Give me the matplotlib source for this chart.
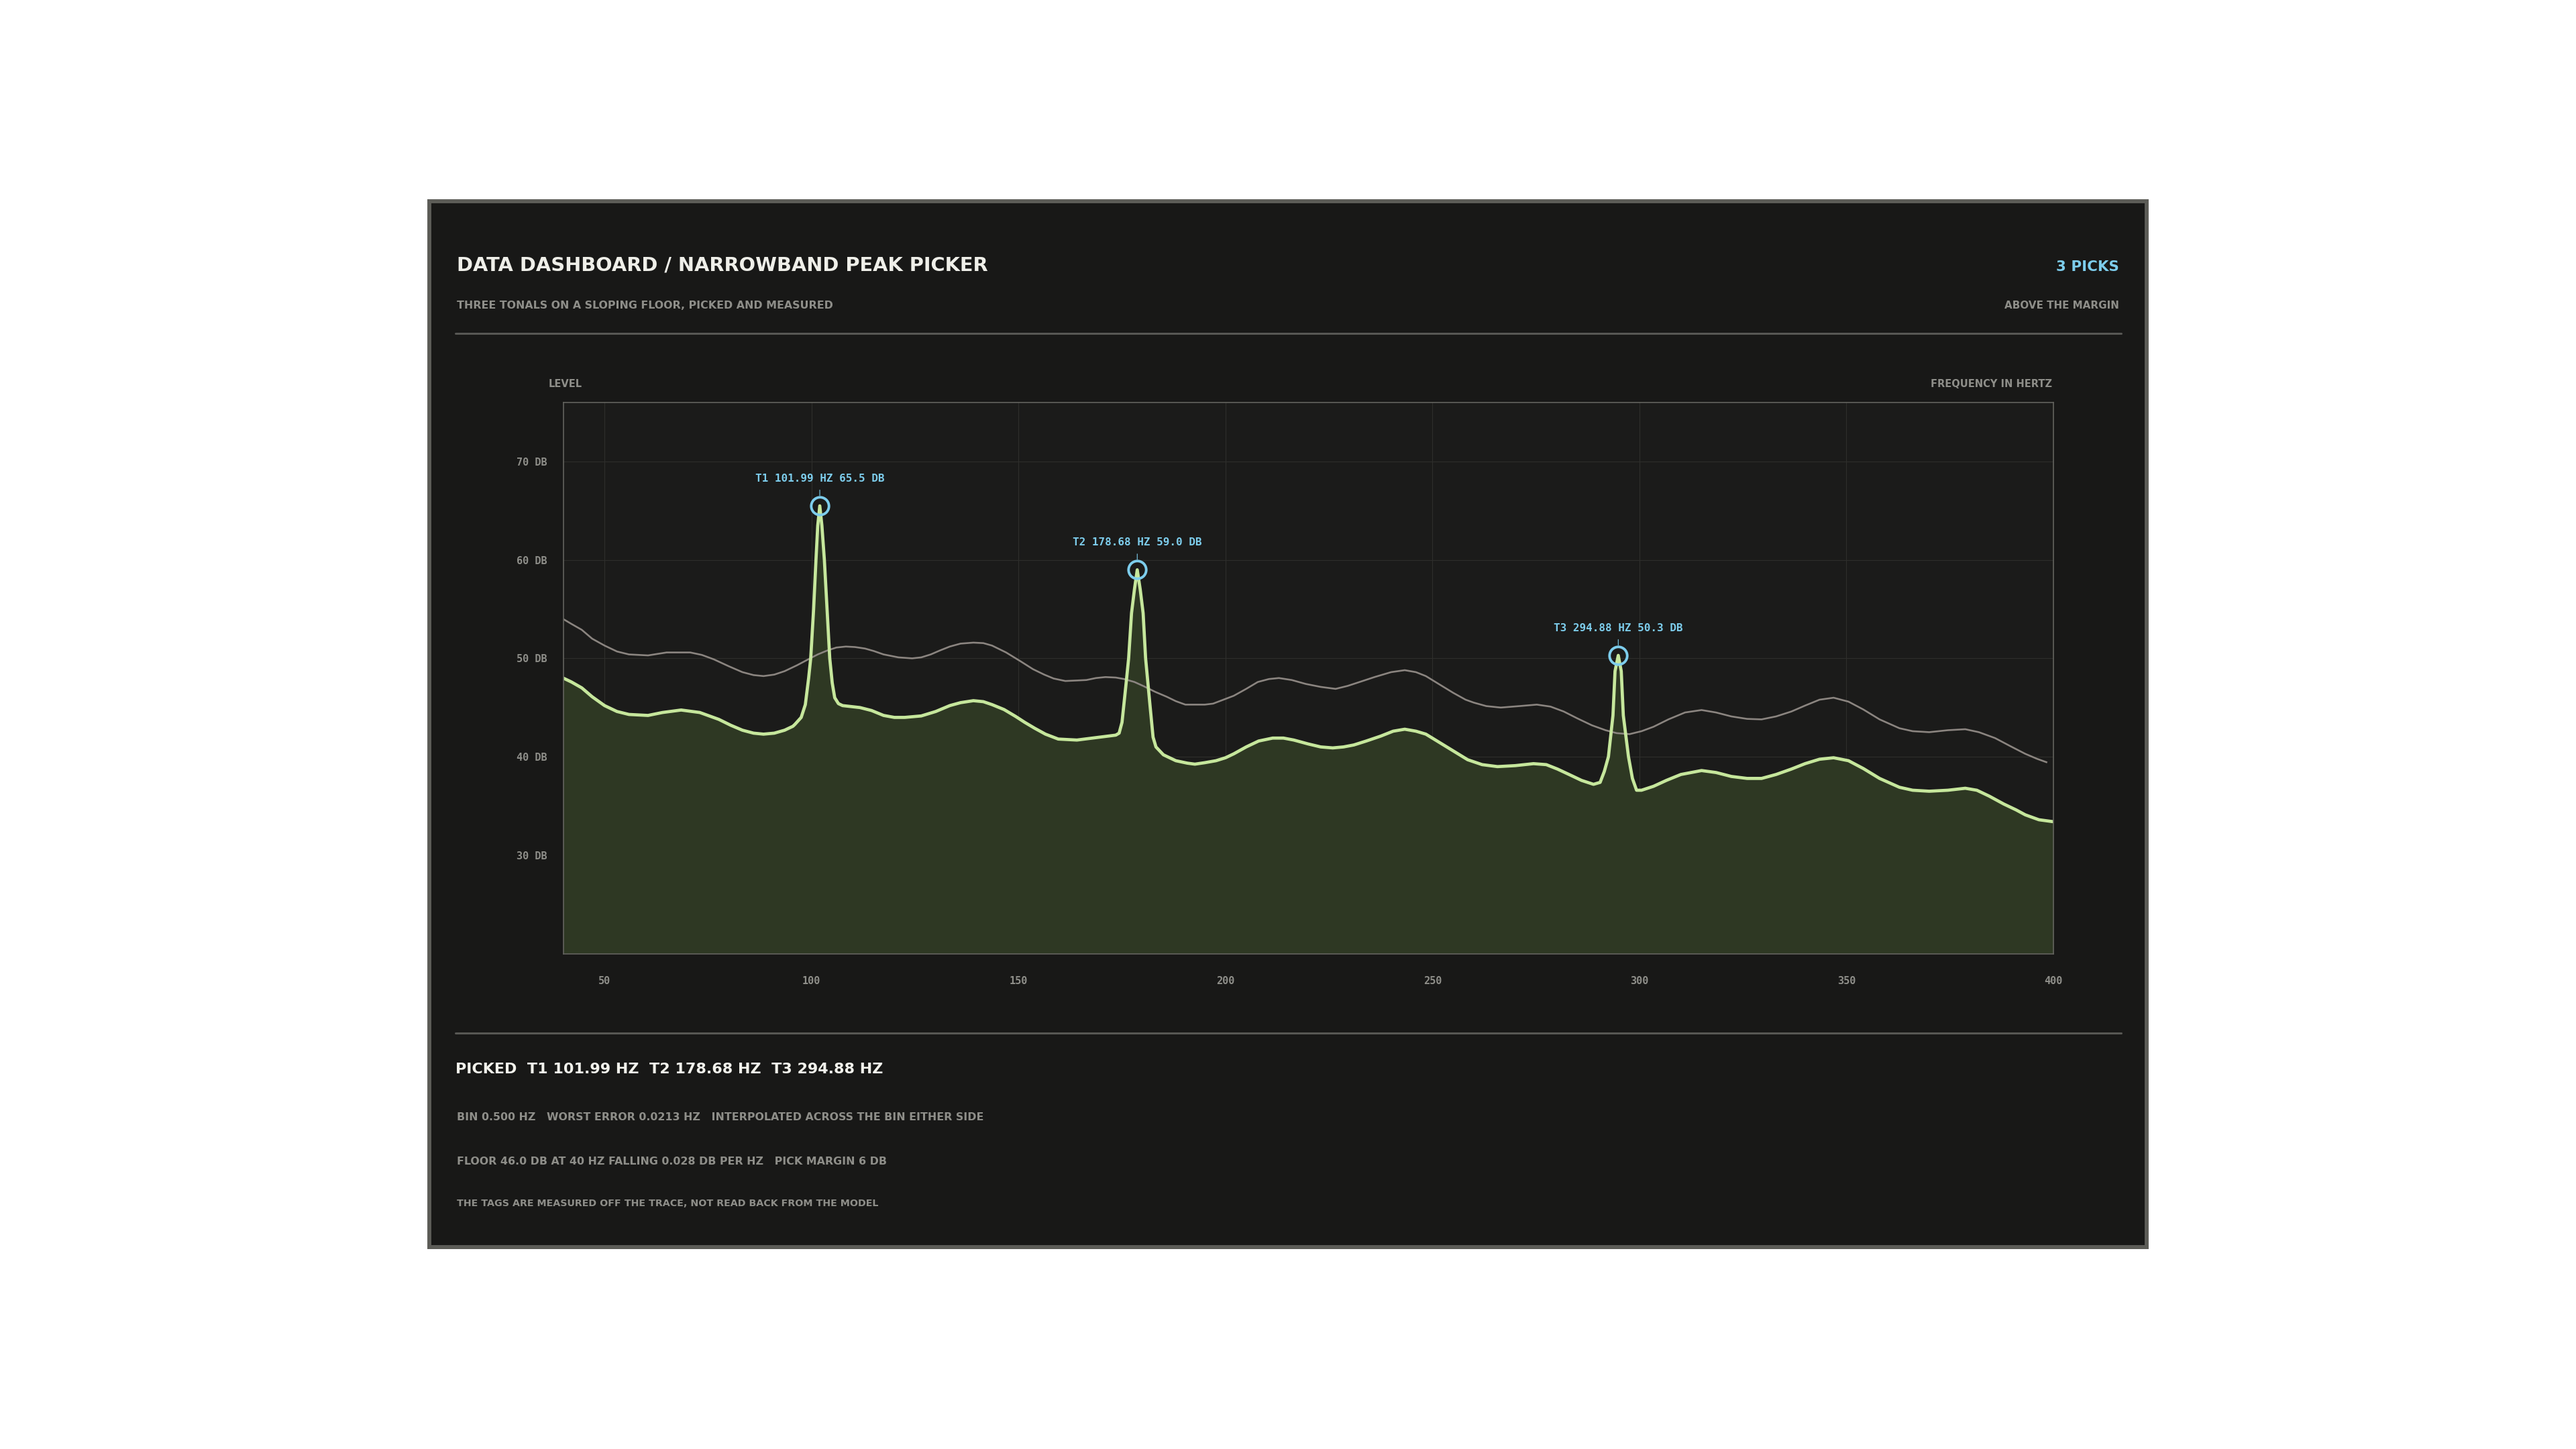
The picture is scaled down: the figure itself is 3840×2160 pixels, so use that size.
import matplotlib
matplotlib.use('Agg')
import matplotlib.pyplot as plt
from matplotlib.patches import Rectangle
from matplotlib.lines import Line2D

# spectrum trace (Hz, dB)
freq = [40.0, 42.0, 44.5, 47.0, 50.0, 53.0, 55.9, 60.5, 64.0, 68.5, 73.0, 77.6, 80.5, 83.3,
        86.0, 88.4, 91.0, 93.5, 95.5, 96.0, 97.5, 98.5, 99.3, 99.8, 100.5, 101.07, 101.5, 101.99,
        102.5, 103.1, 103.75, 104.4, 105.0, 105.6, 106.5, 107.5, 111.7, 114.5, 117.4, 120.0,
        122.5, 126.5, 130.0, 133.4, 136.0, 139.1, 141.5, 143.6, 146.5, 149.3, 151.5, 153.9,
        156.5, 159.6, 164.1, 169.8, 173.5, 174.3, 175.0, 175.5, 176.0, 176.6, 177.3, 178.0,
        178.68, 179.4, 180.1, 180.7, 181.7, 182.5, 183.2, 185.0, 188.0, 190.8, 192.6, 195.0,
        197.7, 200.0, 202.0, 205.0, 208.0, 211.4, 214.0, 216.5, 220.0, 223.0, 225.9, 228.5,
        231.0, 234.0, 237.5, 240.5, 243.3, 246.0, 248.4, 251.5, 255.0, 258.5, 262.0, 265.7,
        270.0, 274.4, 277.5, 280.2, 283.0, 286.0, 288.9, 290.5, 291.5, 292.5, 293.6, 294.1,
        294.88, 295.6, 296.1, 297.35, 298.3, 299.3, 300.5, 303.4, 306.5, 310.0, 315.0, 318.5,
        322.2, 326.0, 329.5, 333.0, 336.7, 340.0, 343.5, 346.9, 350.5, 354.1, 358.0, 362.8,
        366.0, 370.0, 374.5, 378.7, 381.5, 384.5, 388.0, 391.0, 393.2, 396.5, 400.0]
level = [48.0, 47.6, 47.0, 46.1, 45.2, 44.6, 44.3, 44.2, 44.5, 44.75, 44.5, 43.8, 43.2, 42.7,
         42.4, 42.3, 42.4, 42.7, 43.1, 43.3, 44.0, 45.3, 48.0, 50.0, 55.0, 60.0, 63.5, 65.5,
         63.5, 60.0, 55.0, 50.0, 47.5, 46.0, 45.4, 45.2, 45.0, 44.7, 44.2, 44.0,
         44.0, 44.15, 44.6, 45.2, 45.5, 45.7, 45.6, 45.3, 44.8, 44.1, 43.5, 42.9,
         42.3, 41.8, 41.7, 42.0, 42.2, 42.4, 43.5, 45.5, 47.5, 50.0, 54.6, 57.0,
         59.0, 57.0, 54.6, 50.0, 45.5, 42.0, 41.0, 40.2, 39.6, 39.35, 39.25, 39.4,
         39.6, 39.9, 40.3, 41.0, 41.6, 41.9, 41.9, 41.7, 41.3, 41.0, 40.9, 41.0,
         41.2, 41.6, 42.1, 42.6, 42.8, 42.6, 42.3, 41.5, 40.6, 39.7, 39.2, 39.0,
         39.1, 39.3, 39.2, 38.75, 38.2, 37.6, 37.2, 37.4, 38.5, 40.0, 44.2, 48.7,
         50.3, 48.7, 44.2, 40.0, 37.8, 36.6, 36.6, 37.0, 37.6, 38.2, 38.6, 38.4,
         38.0, 37.8, 37.8, 38.2, 38.75, 39.3, 39.75, 39.9, 39.6, 38.8, 37.8, 36.9,
         36.6, 36.5, 36.6, 36.8, 36.6, 36.0, 35.2, 34.6, 34.1, 33.6, 33.4]

# pick threshold (floor + margin)
thr_freq = [40.0, 42.0, 44.5, 47.0, 50.0, 53.0, 55.9, 60.5, 65.0, 70.7, 73.5, 76.4, 80.0, 83.3,
            86.0, 88.4, 91.0, 93.5, 96.5, 99.2, 101.5, 103.8, 106.0, 108.3, 110.5, 112.9, 115.0,
            117.4, 121.0, 124.3, 126.5, 128.8, 131.0, 133.4, 136.0, 139.1, 141.5, 143.6, 147.0,
            150.5, 153.5, 156.2, 158.5, 161.3, 164.0, 166.4, 168.7, 171.0, 173.5, 175.5, 178.0,
            180.1, 183.0, 185.8, 188.0, 190.3, 192.6, 195.0, 197.0, 199.5, 202.0, 205.0, 207.8,
            210.5, 212.9, 216.0, 219.4, 223.0, 226.6, 229.5, 232.4, 236.0, 240.0, 243.3, 246.0,
            248.4, 251.5, 255.0, 258.0, 260.0, 263.0, 266.5, 271.0, 275.2, 278.5, 281.7, 285.0,
            288.5, 291.8, 294.5, 297.6, 300.5, 303.4, 307.0, 311.0, 315.0, 318.5, 322.2, 326.0,
            329.5, 333.0, 336.7, 340.0, 343.5, 346.9, 350.5, 354.1, 358.0, 362.8, 366.0, 370.0,
            374.5, 378.7, 382.0, 385.9, 389.5, 393.2, 396.0, 398.3]
thr_level = [54.0, 53.5, 52.9, 52.0, 51.3, 50.7, 50.4, 50.3, 50.6, 50.6, 50.35, 49.9, 49.2, 48.6,
             48.3, 48.2, 48.35, 48.7, 49.3, 49.9, 50.4, 50.8, 51.1, 51.2, 51.15, 51.0, 50.75,
             50.4, 50.1, 50.0, 50.1, 50.4, 50.8, 51.2, 51.5, 51.6, 51.55, 51.3, 50.6,
             49.7, 48.9, 48.35, 47.95, 47.7, 47.75, 47.8, 48.0, 48.1, 48.05, 47.9, 47.6,
             47.2, 46.6, 46.1, 45.65, 45.3, 45.3, 45.3, 45.4, 45.8, 46.2, 46.9, 47.6,
             47.9, 48.0, 47.8, 47.4, 47.1, 46.9, 47.2, 47.6, 48.1, 48.6, 48.8, 48.6,
             48.2, 47.4, 46.5, 45.8, 45.5, 45.15, 45.0, 45.15, 45.3, 45.1, 44.6, 43.9,
             43.2, 42.7, 42.4, 42.3, 42.6, 43.05, 43.8, 44.5, 44.75, 44.5, 44.1, 43.85,
             43.8, 44.1, 44.6, 45.2, 45.8, 46.0, 45.6, 44.8, 43.8, 42.9, 42.6, 42.5,
             42.7, 42.8, 42.5, 41.9, 41.1, 40.3, 39.8, 39.45]

# picked tonals
pick_names = ['T1', 'T2', 'T3']
pick_freq = [101.99, 178.68, 294.88]
pick_level = [65.5, 59.0, 50.3]

x_ticks = [50, 100, 150, 200, 250, 300, 350, 400]
y_ticks = [30, 40, 50, 60, 70]

footer_lines = [
    'BIN 0.500 HZ   WORST ERROR 0.0213 HZ   INTERPOLATED ACROSS THE BIN EITHER SIDE',
    'FLOOR 46.0 DB AT 40 HZ FALLING 0.028 DB PER HZ   PICK MARGIN 6 DB',
]
footer_note = 'THE TAGS ARE MEASURED OFF THE TRACE, NOT READ BACK FROM THE MODEL'

W, H = 3840, 2160
SANS = ['DejaVu Sans']
MONO = ['DejaVu Sans Mono']
BLUE = '#7dcdec'
GREEN = '#c6e79c'
FILL = '#2e3823'
GREYLINE = '#8b8580'
TXT_GREY = '#8e8e89'


def fx(x):
    return x / W


def fy(y):
    return 1 - y / H


fig = plt.figure(figsize=(W / 100, H / 100), dpi=100, facecolor='white')

# dark card behind everything
fig.patches.append(Rectangle((fx(640), fy(1859)), (3200 - 640) / W, (1859 - 300) / H,
                             transform=fig.transFigure, facecolor='#181817',
                             edgecolor='#5c5c57', linewidth=4.3, zorder=-5))

# header
fig.text(fx(681), fy(404), 'DATA DASHBOARD / NARROWBAND PEAK PICKER', family=SANS,
         fontsize=20.8, fontweight='bold', color='#efefe9', va='baseline')
fig.text(fx(681), fy(460), 'THREE TONALS ON A SLOPING FLOOR, PICKED AND MEASURED', family=SANS,
         fontsize=11.4, fontweight='bold', color=TXT_GREY, va='baseline')
fig.text(fx(3159), fy(404), f'{len(pick_freq)} PICKS', family=SANS, fontsize=15.4,
         fontweight='bold', color=BLUE, va='baseline', ha='right')
fig.text(fx(3159), fy(460), 'ABOVE THE MARGIN', family=SANS, fontsize=10.9,
         fontweight='bold', color=TXT_GREY, va='baseline', ha='right')
for yy in (497, 1540):
    fig.add_artist(Line2D([fx(679), fx(3162)], [fy(yy), fy(yy)], color='#575754',
                          linewidth=2.2, solid_capstyle='round'))

fig.text(fx(818), fy(577), 'LEVEL', family=SANS, fontsize=10.5, fontweight='bold',
         color=TXT_GREY, va='baseline')
fig.text(fx(3059), fy(577), 'FREQUENCY IN HERTZ', family=SANS, fontsize=10.5,
         fontweight='bold', color=TXT_GREY, va='baseline', ha='right')

# chart
ax = fig.add_axes([fx(839.5), fy(1421.5), (3061 - 839.5) / W, (1421.5 - 600) / H])
ax.set_facecolor('#1b1b1a')
ax.set_xlim(40, 400)
ax.set_ylim(20, 76)
ax.set_axisbelow(True)
ax.grid(True, color='#2e2e2c', linewidth=0.8)
for s in ax.spines.values():
    s.set_color('#63635e')
    s.set_linewidth(1.2)
    s.set_zorder(5)

y0 = ax.get_ylim()[0]
ax.fill_between(freq, level, y0, color=FILL, linewidth=0, zorder=1)
ax.plot(thr_freq, thr_level, color=GREYLINE, linewidth=1.9, zorder=2)
ax.plot(freq, level, color=GREEN, linewidth=3.4, zorder=3, solid_joinstyle='round')

for name, f, lv in zip(pick_names, pick_freq, pick_level):
    ax.plot(f, lv, 'o', markersize=19, markerfacecolor='none', markeredgecolor=BLUE,
            markeredgewidth=2.8, zorder=4)
    ax.annotate('', xy=(f, lv), xytext=(0, 17), textcoords='offset points',
                arrowprops=dict(arrowstyle='-', color=BLUE, linewidth=0.8,
                                shrinkA=0, shrinkB=11), zorder=4)
    ax.annotate(f'{name} {f:.2f} HZ {lv:.1f} DB', xy=(f, lv), xytext=(0, 26),
                textcoords='offset points', ha='center', va='baseline', family=MONO,
                fontsize=11.5, fontweight='bold', color=BLUE, zorder=4)

ax.set_xticks(x_ticks)
ax.set_xticklabels([str(v) for v in x_ticks])
ax.set_yticks(y_ticks)
ax.set_yticklabels([f'{v} DB' for v in y_ticks])
ax.tick_params(axis='both', length=0, colors=TXT_GREY, labelsize=11)
ax.tick_params(axis='x', pad=24)
ax.tick_params(axis='y', pad=17)
for lab in ax.get_xticklabels() + ax.get_yticklabels():
    lab.set_family(MONO)
    lab.set_fontweight('bold')

# footer
picked = 'PICKED  ' + '  '.join(f'{n} {f:.2f} HZ' for n, f in zip(pick_names, pick_freq))
fig.text(fx(679), fy(1600), picked, family=SANS, fontsize=16, fontweight='bold',
         color='#f2f2ec', va='baseline')
for yy, line in zip((1670, 1736), footer_lines):
    fig.text(fx(681), fy(yy), line, family=SANS, fontsize=11.4, fontweight='bold',
             color=TXT_GREY, va='baseline')
fig.text(fx(681), fy(1798), footer_note, family=SANS, fontsize=10.3, fontweight='bold',
         color=TXT_GREY, va='baseline')

fig.savefig('out.png', dpi=100, facecolor='white')
